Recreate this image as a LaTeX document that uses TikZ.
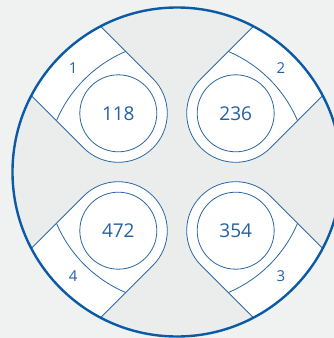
\documentclass[tikz,border=0pt]{standalone}
\usepackage{fontspec}
\setmainfont{Open Sans}
\usetikzlibrary{positioning}
\definecolor{bgout}{HTML}{F0F1F1}
\definecolor{bgin}{HTML}{EBEDED}
\definecolor{ringblue}{HTML}{0B5AA6}
\definecolor{lineblue}{HTML}{2A66A6}
\definecolor{textblue}{HTML}{2461A2}
\tikzset{
  podline/.style={draw=lineblue, line width=0.8pt},
  ringline/.style={draw=ringblue, line width=2.4pt},
  numcircle/.style={circle, draw=lineblue, line width=0.8pt, minimum size=77pt, inner sep=0pt, text=textblue, font=\fontsize{19}{22}\selectfont},
  seatlabel/.style={inner sep=0pt, text=textblue, font=\fontsize{15}{18}\selectfont},
  pics/pod/.style={code={
    \fill[white] (83,49) -- (157.0,49) arc[start angle=17.33, end angle=-17.33, radius=164.5] -- (83,-49) arc[start angle=-90, end angle=-270, radius=49] -- cycle;
    \draw[podline] (157.0,49) -- (83,49) arc[start angle=90, end angle=270, radius=49] -- (157.0,-49);
    \draw[podline] (121.5,49) arc[start angle=21.96, end angle=-21.96, radius=131];
  }}
}

\begin{document}
\begin{tikzpicture}[x=1pt, y=1pt]
  \useasboundingbox (-177,-166) rectangle (157,172);
  \fill[bgout] (-177,-166) rectangle (157,172);
  \fill[bgin] (0,0) circle[radius=164.5];
  % four pods, one per quadrant
  \pic[rotate=135] {pod};
  \pic[rotate=45] {pod};
  \pic[rotate=-45] {pod};
  \pic[rotate=-135] {pod};
  \node[numcircle] (seat1) at (135:83pt) {118};
  \node[numcircle] (seat2) at (45:83pt) {236};
  \node[numcircle] (seat3) at (-45:83pt) {354};
  \node[numcircle] (seat4) at (-135:83pt) {472};
  \node[seatlabel] (label1) at (135:147pt) {1};
  \node[seatlabel] (label2) at (45:147pt) {2};
  \node[seatlabel] (label3) at (-45:147pt) {3};
  \node[seatlabel] (label4) at (-135:147pt) {4};
  \draw[ringline] (0,0) circle[radius=164.5];
\end{tikzpicture}
\end{document}
